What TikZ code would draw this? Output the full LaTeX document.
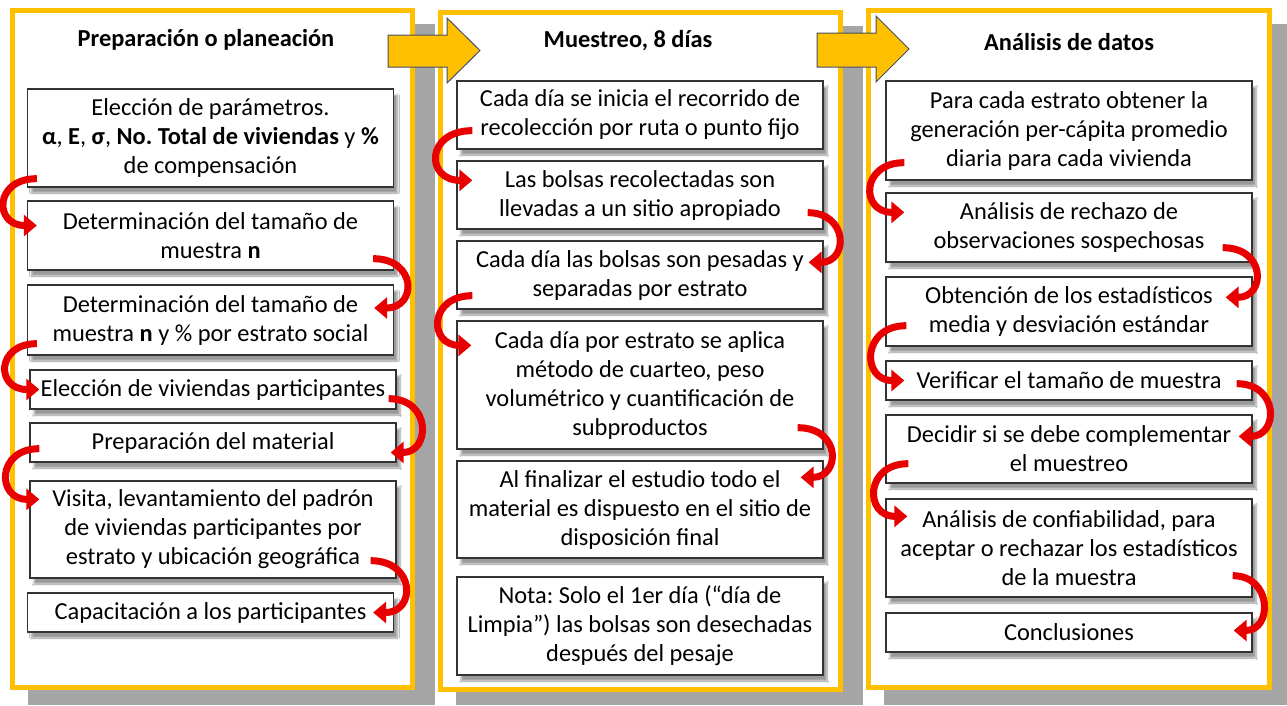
\documentclass[tikz,border=0pt]{standalone}
\usepackage{fontspec}
\setmainfont{Carlito}
\frenchspacing
\usetikzlibrary{arrows.meta,shadows.blur}

\definecolor{amarillo}{RGB}{255,192,0}
\definecolor{sombra}{RGB}{165,165,165}
\definecolor{rojo}{RGB}{232,0,0}
\definecolor{borde}{RGB}{70,80,100}

\tikzset{
  panel/.style={draw=amarillo, line width=5pt, fill=white},
  caja/.style={draw=black!80, line width=1.3pt, fill=white, align=center,
    minimum width=366pt, inner sep=1pt,
    blur shadow={shadow xshift=4pt, shadow yshift=-6pt, shadow blur steps=8},
    font=\fontsize{24.4}{29}\selectfont},
  titulo/.style={font=\fontsize{24.4}{29}\selectfont\bfseries},
  flecha/.style={draw=rojo, line width=7pt, -{Triangle[width=21pt,length=13pt]}},
  bloque/.style={fill=amarillo, draw=borde, line width=1pt}
}

\begin{document}
\begin{tikzpicture}[x=1pt,y=-1pt]
    \useasboundingbox (0,0) rectangle (1287,705);

    % paneles con su sombra
    \fill[sombra] (28,24) rectangle (435,705);
    \draw[panel] (12.5,10.5) rectangle (412.5,687.5);
    \fill[sombra] (456,26) rectangle (863,705);
    \draw[panel] (440.5,12.5) rectangle (840.5,689.5);
    \fill[sombra] (884,24) rectangle (1287,705);
    \draw[panel] (868.5,10.5) rectangle (1269.5,687.5);

    \node[titulo] (t1) at (206,40) {Preparación o planeación};
    \node[titulo] (t2) at (628,41) {Muestreo, 8 días};
    \node[titulo] (t3) at (1069,42) {Análisis de datos};

    % preparacion
    \node[caja, minimum height=98pt] (b1) at (210.5,138) {Elección de parámetros.\\ \textbf{α}, \textbf{E}, \textbf{σ}, \textbf{No. Total de viviendas} y \textbf{\%}\\ de compensación};
    \node[caja, minimum height=69pt] (b2) at (210.5,235.5) {Determinación del tamaño de\\ muestra \textbf{n}};
    \node[caja, minimum height=70pt] (b3) at (210.5,320) {Determinación del tamaño de\\ muestra \textbf{n} y \% por estrato social};
    \node[caja, minimum height=39pt] (b4) at (213,389.5) {Elección de viviendas participantes};
    \node[caja, minimum height=39pt] (b5) at (213,442.5) {Preparación del material};
    \node[caja, minimum height=97pt] (b6) at (213,529.5) {Visita, levantamiento del padrón\\ de viviendas participantes por\\ estrato y ubicación geográfica};
    \node[caja, minimum height=39pt] (b7) at (210.5,612.5) {Capacitación a los participantes};

    % muestreo
    \node[caja, minimum height=68pt] (c1) at (640,115) {Cada día se inicia el recorrido de\\ recolección por ruta o punto fijo};
    \node[caja, minimum height=68pt] (c2) at (640,195) {Las bolsas recolectadas son\\ llevadas a un sitio apropiado};
    \node[caja, minimum height=68pt] (c3) at (640,275) {Cada día las bolsas son pesadas y\\ separadas por estrato};
    \node[caja, minimum height=128pt] (c4) at (640,385) {Cada día por estrato se aplica\\ método de cuarteo, peso\\ volumétrico y cuantificación de\\ subproductos};
    \node[caja, minimum height=97pt] (c5) at (640,509.5) {Al finalizar el estudio todo el\\ material es dispuesto en el sitio de\\ disposición final};
    \node[caja, minimum height=98pt] (c6) at (640,626) {Nota: Solo el 1er día (“día de\\ Limpia”) las bolsas son desechadas\\ después del pesaje};

    % analisis
    \node[caja, minimum height=99pt] (d1) at (1069,130.5) {Para cada estrato obtener la\\ generación per-cápita promedio\\ diaria para cada vivienda};
    \node[caja, minimum height=69pt] (d2) at (1069,227.5) {Análisis de rechazo de\\ observaciones sospechosas};
    \node[caja, minimum height=69pt] (d3) at (1069,311.5) {Obtención de los estadísticos\\ media y desviación estándar};
    \node[caja, minimum height=39pt] (d4) at (1069,380.5) {Verificar el tamaño de muestra};
    \node[caja, minimum height=68pt] (d5) at (1069,449) {Decidir si se debe complementar\\ el muestreo};
    \node[caja, minimum height=98pt] (d6) at (1069,548) {Análisis de confiabilidad, para\\ aceptar o rechazar los estadísticos\\ de la muestra};
    \node[caja, minimum height=39pt] (d7) at (1069,632.5) {Conclusiones};

    % flechas rojas
    \draw[flecha] ([shift={(10,-9)}]b1.south west) .. controls +(-43,0) and +(-43,0) .. ([shift={(10,-10)}]b2.west);
    \draw[flecha] ([shift={(-21,-12)}]b2.south east) .. controls +(44,0) and +(43,0) .. ([shift={(-20,-12)}]b3.east);
    \draw[flecha] ([shift={(10,-12)}]b3.south west) .. controls +(-41,0) and +(-44,0) .. ([shift={(10,0)}]b4.west);
    \draw[flecha] ([shift={(-8,-11)}]b4.south east) .. controls +(43,0) and +(40,0) .. ([shift={(-6,10)}]b5.east);
    \draw[flecha] ([shift={(10,-14)}]b5.south west) .. controls +(-43,0) and +(-43,0) .. ([shift={(10,19)}]b6.north west);
    \draw[flecha] ([shift={(-26,-18)}]b6.south east) .. controls +(45,0) and +(43,0) .. ([shift={(-21,0)}]b7.east);

    \draw[flecha] ([shift={(16,-19)}]c1.south west) .. controls +(-47,0) and +(-47,0) .. ([shift={(16,20)}]c2.north west);
    \draw[flecha] ([shift={(-16,-17)}]c2.south east) .. controls +(41,0) and +(40,0) .. ([shift={(-15,22)}]c3.north east);
    \draw[flecha] ([shift={(16,-14)}]c3.south west) .. controls +(-44,0) and +(-43,0) .. ([shift={(15,25)}]c4.north west);
    \draw[flecha] ([shift={(-26,-22)}]c4.south east) .. controls +(44,0) and +(40,0) .. ([shift={(-23,17)}]c5.north east);

    \draw[flecha] ([shift={(19,-18)}]d1.south west) .. controls +(-44,0) and +(-44,0) .. ([shift={(19,20)}]d2.north west);
    \draw[flecha] ([shift={(-30,-15)}]d2.south east) .. controls +(44,0) and +(40,0) .. ([shift={(-27,21)}]d3.north east);
    \draw[flecha] ([shift={(21,-21)}]d3.south west) .. controls +(-45,0) and +(-43,0) .. ([shift={(19,0)}]d4.west);
    \draw[flecha] ([shift={(-16,-17)}]d4.south east) .. controls +(43,0) and +(40,0) .. ([shift={(-14,22)}]d5.north east);
    \draw[flecha] ([shift={(23,-20)}]d5.south west) .. controls +(-44,0) and +(-43,0) .. ([shift={(22,18)}]d6.north west);
    \draw[flecha] ([shift={(-20,-22)}]d6.south east) .. controls +(40,0) and +(39,0) .. ([shift={(-19,-2)}]d7.east);

    % flechas grandes entre paneles
    \filldraw[bloque] (388,35) -- (447,35) -- (447,18) -- (480,50.5) -- (447,83) -- (447,67) -- (388,67) -- cycle;
    \filldraw[bloque] (817,33) -- (876,33) -- (876,16) -- (909,49) -- (876,82) -- (876,67) -- (817,67) -- cycle;
\end{tikzpicture}
\end{document}
